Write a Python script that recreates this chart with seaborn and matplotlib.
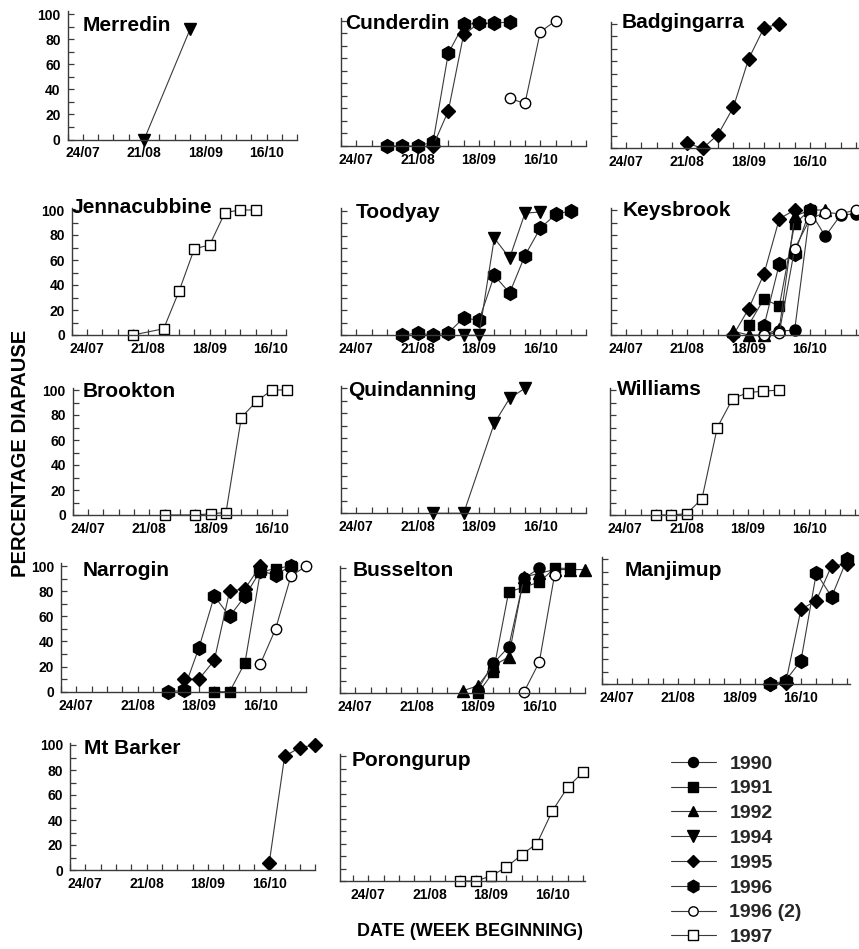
import numpy as np
import pandas as pd
import matplotlib
matplotlib.use("Agg")
import matplotlib.pyplot as plt
from matplotlib.lines import Line2D
from matplotlib.ticker import MultipleLocator
import seaborn as sns

# ---------------- data ----------------
TICK_WEEKS = [0, 4, 8, 12]                      # weeks after 24/07
TICK_LABELS = ["24/07", "21/08", "18/09", "16/10"]
YEARS = ["1990", "1991", "1992", "1994", "1995", "1996", "1996 (2)", "1997"]
SITES = ["Merredin", "Cunderdin", "Badgingarra",
         "Jennacubbine", "Toodyay", "Keysbrook",
         "Brookton", "Quindanning", "Williams",
         "Narrogin", "Busselton", "Manjimup",
         "Mt Barker", "Porongurup"]

MERREDIN_1994_WK = [4, 7]
MERREDIN_1994_PCT = [0, 88]

CUNDERDIN_1996_WK = [2, 3, 4, 5, 6, 7, 8, 9, 10]
CUNDERDIN_1996_PCT = [0, 0, 0, 3, 74, 97, 98, 98, 99]
CUNDERDIN_1995_WK = [5, 6, 7, 8]
CUNDERDIN_1995_PCT = [0, 28, 89, 98]
CUNDERDIN_1996B_WK = [10, 11, 12, 13]
CUNDERDIN_1996B_PCT = [38, 34, 91, 100]

BADGINGARRA_1995_WK = [4, 5, 6, 7, 8, 9, 10]
BADGINGARRA_1995_PCT = [4, 0, 11, 33, 72, 97, 100]

JENNACUBBINE_1997_WK = [3, 5, 6, 7, 8, 9, 10, 11]
JENNACUBBINE_1997_PCT = [0, 5, 35, 69, 72, 98, 100, 100]

TOODYAY_1996_WK = [3, 4, 5, 6, 7, 8, 9, 10, 11, 12, 13, 14]
TOODYAY_1996_PCT = [0, 2, 0, 2, 14, 12, 48, 34, 64, 86, 97, 100]
TOODYAY_1994_WK = [7, 8, 9, 10, 11, 12]
TOODYAY_1994_PCT = [0, 0, 78, 62, 98, 99]

KEYSBROOK_1990_WK = [9, 10, 11, 12, 13, 14, 15]
KEYSBROOK_1990_PCT = [0, 3, 4, 99, 79, 96, 97]
KEYSBROOK_1991_WK = [8, 9, 10, 11, 12]
KEYSBROOK_1991_PCT = [8, 29, 23, 89, 100]
KEYSBROOK_1992_WK = [7, 8, 9, 10, 11, 12, 13]
KEYSBROOK_1992_PCT = [3, 0, 0, 5, 95, 100, 100]
KEYSBROOK_1995_WK = [7, 8, 9, 10, 11]
KEYSBROOK_1995_PCT = [0, 21, 49, 93, 100]
KEYSBROOK_1996_WK = [9, 10, 11, 12]
KEYSBROOK_1996_PCT = [7, 57, 65, 100]
KEYSBROOK_1996B_WK = [9, 10, 11, 12, 13, 14, 15]
KEYSBROOK_1996B_PCT = [0, 2, 69, 93, 98, 97, 100]

BROOKTON_1997_WK = [5, 7, 8, 9, 10, 11, 12, 13]
BROOKTON_1997_PCT = [0, 0, 1, 2, 78, 91, 100, 100]

QUINDANNING_1994_WK = [5, 7, 9, 10, 11]
QUINDANNING_1994_PCT = [0, 0, 72, 92, 100]

WILLIAMS_1997_WK = [2, 3, 4, 5, 6, 7, 8, 9, 10]
WILLIAMS_1997_PCT = [0, 0, 1, 13, 70, 93, 98, 99, 100]

NARROGIN_1996_WK = [6, 7, 8, 9, 10, 11, 12, 13, 14]
NARROGIN_1996_PCT = [0, 1, 35, 76, 60, 76, 96, 93, 100]
NARROGIN_1995_WK = [7, 8, 9, 10, 11, 12]
NARROGIN_1995_PCT = [10, 10, 25, 80, 82, 100]
NARROGIN_1991_WK = [9, 10, 11, 12, 13, 14]
NARROGIN_1991_PCT = [0, 0, 23, 95, 98, 100]
NARROGIN_1996B_WK = [12, 13, 14, 15]
NARROGIN_1996B_PCT = [22, 50, 92, 100]

BUSSELTON_1992_WK = [7, 8, 9, 10, 11, 12, 13, 14, 15]
BUSSELTON_1992_PCT = [2, 6, 22, 29, 93, 96, 99, 99, 99]
BUSSELTON_1991_WK = [8, 9, 10, 11, 12, 13, 14]
BUSSELTON_1991_PCT = [0, 17, 81, 85, 89, 100, 100]
BUSSELTON_1990_WK = [8, 9, 10, 11, 12]
BUSSELTON_1990_PCT = [3, 24, 37, 92, 100]
BUSSELTON_1996B_WK = [11, 12, 13]
BUSSELTON_1996B_PCT = [1, 25, 95]

MANJIMUP_1996_WK = [10, 11, 12, 13, 14, 15]
MANJIMUP_1996_PCT = [0, 3, 19, 89, 70, 100]
MANJIMUP_1995_WK = [10, 11, 12, 13, 14, 15]
MANJIMUP_1995_PCT = [0, 1, 60, 67, 95, 96]

MTBARKER_1995_WK = [12, 13, 14, 15]
MTBARKER_1995_PCT = [6, 91, 98, 100]

PORONGURUP_1997_WK = [6, 7, 8, 9, 10, 11, 12, 13, 14]
PORONGURUP_1997_PCT = [0, 0, 4, 11, 21, 30, 56, 75, 87]

SERIES = [
    ("Merredin", "1994", MERREDIN_1994_WK, MERREDIN_1994_PCT),
    ("Cunderdin", "1996", CUNDERDIN_1996_WK, CUNDERDIN_1996_PCT),
    ("Cunderdin", "1995", CUNDERDIN_1995_WK, CUNDERDIN_1995_PCT),
    ("Cunderdin", "1996 (2)", CUNDERDIN_1996B_WK, CUNDERDIN_1996B_PCT),
    ("Badgingarra", "1995", BADGINGARRA_1995_WK, BADGINGARRA_1995_PCT),
    ("Jennacubbine", "1997", JENNACUBBINE_1997_WK, JENNACUBBINE_1997_PCT),
    ("Toodyay", "1996", TOODYAY_1996_WK, TOODYAY_1996_PCT),
    ("Toodyay", "1994", TOODYAY_1994_WK, TOODYAY_1994_PCT),
    ("Keysbrook", "1990", KEYSBROOK_1990_WK, KEYSBROOK_1990_PCT),
    ("Keysbrook", "1991", KEYSBROOK_1991_WK, KEYSBROOK_1991_PCT),
    ("Keysbrook", "1992", KEYSBROOK_1992_WK, KEYSBROOK_1992_PCT),
    ("Keysbrook", "1995", KEYSBROOK_1995_WK, KEYSBROOK_1995_PCT),
    ("Keysbrook", "1996", KEYSBROOK_1996_WK, KEYSBROOK_1996_PCT),
    ("Keysbrook", "1996 (2)", KEYSBROOK_1996B_WK, KEYSBROOK_1996B_PCT),
    ("Brookton", "1997", BROOKTON_1997_WK, BROOKTON_1997_PCT),
    ("Quindanning", "1994", QUINDANNING_1994_WK, QUINDANNING_1994_PCT),
    ("Williams", "1997", WILLIAMS_1997_WK, WILLIAMS_1997_PCT),
    ("Narrogin", "1996", NARROGIN_1996_WK, NARROGIN_1996_PCT),
    ("Narrogin", "1995", NARROGIN_1995_WK, NARROGIN_1995_PCT),
    ("Narrogin", "1991", NARROGIN_1991_WK, NARROGIN_1991_PCT),
    ("Narrogin", "1996 (2)", NARROGIN_1996B_WK, NARROGIN_1996B_PCT),
    ("Busselton", "1992", BUSSELTON_1992_WK, BUSSELTON_1992_PCT),
    ("Busselton", "1991", BUSSELTON_1991_WK, BUSSELTON_1991_PCT),
    ("Busselton", "1990", BUSSELTON_1990_WK, BUSSELTON_1990_PCT),
    ("Busselton", "1996 (2)", BUSSELTON_1996B_WK, BUSSELTON_1996B_PCT),
    ("Manjimup", "1996", MANJIMUP_1996_WK, MANJIMUP_1996_PCT),
    ("Manjimup", "1995", MANJIMUP_1995_WK, MANJIMUP_1995_PCT),
    ("Mt Barker", "1995", MTBARKER_1995_WK, MTBARKER_1995_PCT),
    ("Porongurup", "1997", PORONGURUP_1997_WK, PORONGURUP_1997_PCT),
]

rows = []
for order, (site, year, wks, pcts) in enumerate(SERIES):
    for w, p in zip(wks, pcts):
        rows.append({"site": site, "year": year, "week": w, "pct": p, "order": order})
df = pd.DataFrame(rows)

# ---------------- styles ----------------
STYLE = {
    "1990":     dict(marker="o", ms=8.0, mfc="black"),
    "1991":     dict(marker="s", ms=7.5, mfc="black"),
    "1992":     dict(marker="^", ms=8.5, mfc="black"),
    "1994":     dict(marker="v", ms=9.0, mfc="black"),
    "1995":     dict(marker="D", ms=7.0, mfc="black"),
    "1996":     dict(marker="h", ms=10.0, mfc="black"),
    "1996 (2)": dict(marker="o", ms=7.5, mfc="white"),
    "1997":     dict(marker="s", ms=7.5, mfc="white"),
}

W, H = 859, 949
WEEK_PX = 15.33
# (left spine px, y px of 0, y px of 100, first week, last week, show y labels)
LAYOUT = {
    "Merredin":     (67.5, 139.5, 14.0, -1.0, 14.0, True),
    "Cunderdin":    (341.0, 146.0, 20.7, -1.0, 15.0, False),
    "Badgingarra":  (610.7, 148.3, 24.0, -1.0, 15.2, False),
    "Jennacubbine": (71.7, 335.0, 210.0, -1.0, 13.0, True),
    "Toodyay":      (341.0, 335.3, 210.7, -1.0, 15.0, False),
    "Keysbrook":    (610.7, 335.0, 210.0, -1.0, 15.2, False),
    "Brookton":     (72.7, 515.0, 390.0, -1.0, 13.0, True),
    "Quindanning":  (341.0, 513.3, 388.3, -1.0, 15.0, False),
    "Williams":     (610.0, 515.0, 390.0, -1.0, 15.2, False),
    "Narrogin":     (61.0, 691.7, 566.0, -1.0, 15.0, True),
    "Busselton":    (340.0, 693.3, 568.3, -1.0, 15.0, False),
    "Manjimup":     (601.7, 684.3, 559.3, -1.0, 15.2, False),
    "Mt Barker":    (70.0, 870.0, 745.0, -1.0, 15.0, True),
    "Porongurup":   (340.0, 881.0, 756.0, -1.85, 14.1, False),
}
TITLE_POS = {
    "Merredin": (83, 20), "Cunderdin": (345, 18), "Badgingarra": (622, 17),
    "Jennacubbine": (72, 202), "Toodyay": (356, 207), "Keysbrook": (623, 205),
    "Brookton": (83, 386), "Quindanning": (348, 385), "Williams": (617, 384),
    "Narrogin": (83, 565), "Busselton": (353, 565), "Manjimup": (625, 565),
    "Mt Barker": (84, 743), "Porongurup": (352, 755),
}

sns.set_theme(style="white")
plt.rcParams["font.family"] = ["Liberation Sans", "DejaVu Sans"]
AX_COLOR = "#3a3a3a"
LINE_COLOR = "#3a3a3a"

fig = plt.figure(figsize=(W / 100, H / 100), dpi=100)

for site in SITES:
    L, y0, y100, xlo, xhi, ylab = LAYOUT[site]
    ytop = 102.0
    px_per_pct = (y0 - y100) / 100.0
    width = (xhi - xlo) * WEEK_PX
    height = ytop * px_per_pct
    ax = fig.add_axes([L / W, (H - y0) / H, width / W, height / H])
    ax.set_facecolor("none")
    sub_site = df[df["site"] == site]
    for order in sorted(sub_site["order"].unique()):
        sub = sub_site[sub_site["order"] == order]
        st = STYLE[sub["year"].iloc[0]]
        sns.lineplot(data=sub, x="week", y="pct", ax=ax, estimator=None, sort=False,
                     color=LINE_COLOR, linewidth=0.8, marker=st["marker"],
                     markersize=st["ms"], markerfacecolor=st["mfc"],
                     markeredgecolor="black", markeredgewidth=1.0,
                     clip_on=False, legend=False)
    ax.set_xlim(xlo, xhi)
    ax.set_ylim(0, ytop)
    ax.set_xticks(TICK_WEEKS)
    ax.set_xticklabels(TICK_LABELS)
    ax.xaxis.set_minor_locator(MultipleLocator(1))
    ax.set_yticks([0, 20, 40, 60, 80, 100])
    ax.yaxis.set_minor_locator(MultipleLocator(10))
    if not ylab:
        ax.set_yticklabels([])
    ax.set_xlabel("")
    ax.set_ylabel("")
    for s in ["top", "right"]:
        ax.spines[s].set_visible(False)
    for s in ["left", "bottom"]:
        ax.spines[s].set_color(AX_COLOR)
        ax.spines[s].set_linewidth(1.0)
    ax.tick_params(axis="both", which="both", direction="in", length=4,
                   width=0.9, color=AX_COLOR, labelsize=10)
    ax.tick_params(axis="x", which="both", pad=5, bottom=True)
    ax.tick_params(axis="y", which="both", pad=5, left=True)
    for lab in ax.get_xticklabels() + ax.get_yticklabels():
        lab.set_fontweight("bold")
        lab.set_color("black")
    tx, ty = TITLE_POS[site]
    fig.text(tx / W, 1 - (ty - 4) / H, site, ha="left", va="top",
             fontsize=15, fontweight="bold", color="black")

# axis titles
fig.text(21 / W, 1 - 453 / H, "PERCENTAGE DIAPAUSE", rotation=90, ha="center",
         va="center", fontsize=14.5, fontweight="bold", color="black")
fig.text(470 / W, 1 - 931 / H, "DATE (WEEK BEGINNING)", ha="center", va="center",
         fontsize=13, fontweight="bold", color="black")

# legend
handles = [Line2D([0], [0], color=LINE_COLOR, linewidth=0.8, marker=STYLE[y]["marker"],
                  markersize=STYLE[y]["ms"] * 0.9, markerfacecolor=STYLE[y]["mfc"],
                  markeredgecolor="black", markeredgewidth=1.0) for y in YEARS]
leg = fig.legend(handles, YEARS, loc="upper left", bbox_to_anchor=(671 / W, 1 - 755 / H),
                 frameon=False, borderpad=0, borderaxespad=0, handlelength=2.3,
                 handletextpad=0.7, labelspacing=0.37,
                 prop={"family": "Liberation Sans", "weight": "bold", "size": 14})

fig.savefig("out.png", dpi=100)
